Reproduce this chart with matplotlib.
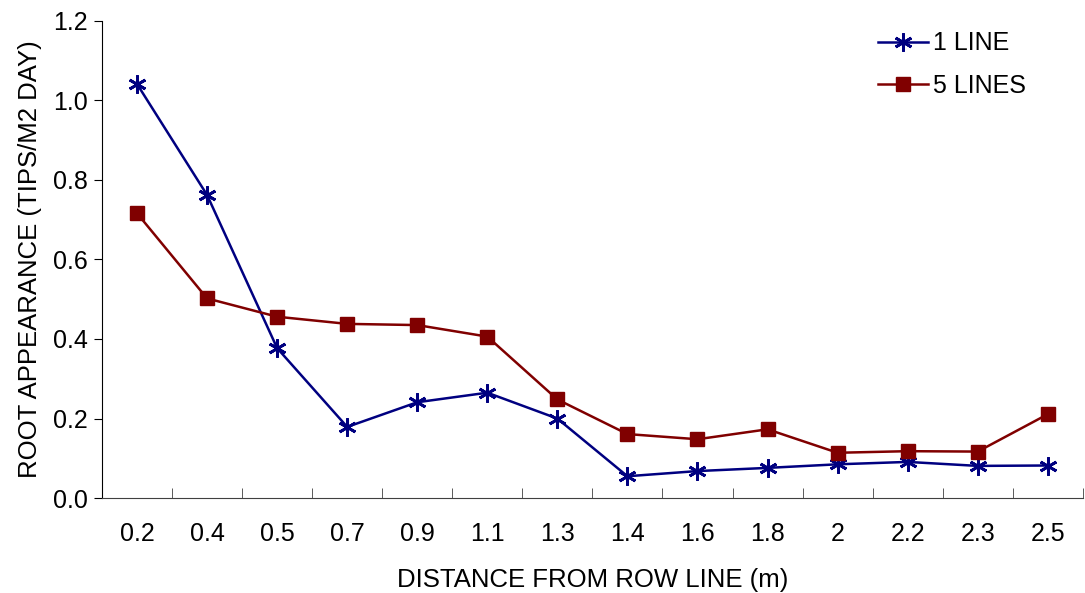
import numpy as np
import matplotlib
matplotlib.use("Agg")
import matplotlib.pyplot as plt

# data
distance = ["0.2", "0.4", "0.5", "0.7", "0.9", "1.1", "1.3",
            "1.4", "1.6", "1.8", "2", "2.2", "2.3", "2.5"]
one_line = [1.041, 0.762, 0.377, 0.179, 0.241, 0.265, 0.200,
            0.055, 0.068, 0.076, 0.085, 0.091, 0.081, 0.082]
five_lines = [0.716, 0.502, 0.456, 0.438, 0.435, 0.406, 0.248,
              0.161, 0.148, 0.173, 0.114, 0.118, 0.117, 0.211]

plt.rcParams['font.family'] = ['Liberation Sans', 'DejaVu Sans']

fig = plt.figure(figsize=(10.85, 5.93), dpi=100)
ax = fig.add_axes([0.094, 0.160, 0.904, 0.805])

x = np.arange(len(distance))
ax.plot(x, one_line, color="#000080", lw=1.8, marker=(6, 2, 0),
        markersize=13, markeredgewidth=2.0, label="1 LINE")
ax.plot(x, five_lines, color="#800000", lw=1.8, marker="s",
        markersize=10, label="5 LINES")

ax.set_xlim(-0.5, len(distance) - 0.5)
ax.set_ylim(0, 1.2)
ax.set_yticks(np.arange(0, 1.21, 0.2))
ax.set_yticklabels(["{:.1f}".format(v) for v in np.arange(0, 1.21, 0.2)])
ax.set_xticks(x)
ax.set_xticklabels(distance)
ax.set_xticks(np.arange(0.5, len(distance), 1.0), minor=True)
ax.tick_params(axis="x", which="major", length=0, pad=17, labelsize=18)
ax.tick_params(axis="x", which="minor", direction="in", length=7, color="#404040")
ax.tick_params(axis="y", direction="out", length=6, pad=4, labelsize=18)

for s in ["top", "right"]:
    ax.spines[s].set_visible(False)
ax.spines["bottom"].set_color("#404040")

ax.set_xlabel("DISTANCE FROM ROW LINE (m)", fontsize=18.5, labelpad=16)
ax.set_ylabel("ROOT APPEARANCE (TIPS/M2 DAY)", fontsize=18.5, labelpad=8)

ax.legend(loc="upper left", bbox_to_anchor=(0.768, 1.025), frameon=False,
          fontsize=18, handlelength=2.0, labelspacing=0.75, handletextpad=0.2)

fig.savefig("out.png", dpi=100)
